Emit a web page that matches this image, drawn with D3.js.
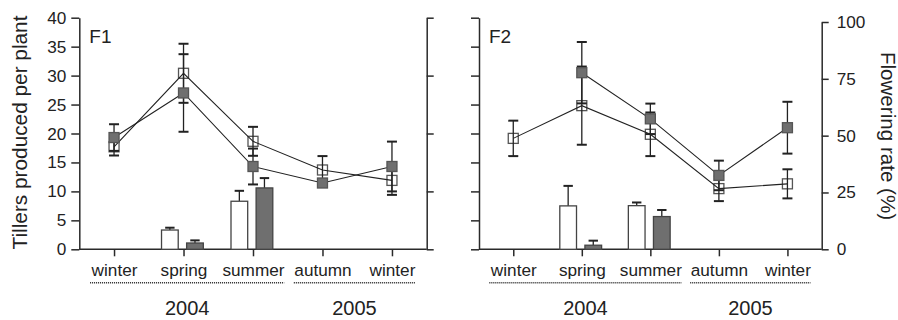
<!DOCTYPE html>
<html><head><meta charset="utf-8">
<script src="https://cdn.jsdelivr.net/npm/d3@7"></script>
<style>
body{margin:0;background:#fff}
text{font-family:"Liberation Sans",Arial,Helvetica,sans-serif;fill:#222}
</style>
</head><body>
<svg id="c" width="898" height="320"></svg>
<script>
// ---------- data ----------
const seasons = ["winter","spring","summer","autumn","winter"];
const seasonYear = ["2004","2004","2004","2005","2005"];
const years = ["2004","2005"];
const tillerTicks = [0,5,10,15,20,25,30,35,40];
const rateTicks = [0,25,50,75,100];

// F1 (read on tillers axis)
const f1Open        = [17.7, 30.4, 18.65, 13.7, 11.9];
const f1OpenErr     = [1.5, 5.1, 2.5, 2.4, 2.5];
const f1Filled      = [19.3, 27.0, 14.3, 11.45, 14.3];
const f1FilledErr   = [2.3, 6.7, 3.1, 0.5, 4.3];
const f1BarOpen     = [null, 3.33, 8.3, null, null];
const f1BarOpenErr  = [null, 0.4, 1.8, null, null];
const f1BarFilled   = [null, 1.09, 10.6, null, null];
const f1BarFilledErr= [null, 0.45, 1.7, null, null];

// F2 (read on flowering-rate axis)
const f2Open        = [48.8, 63.2, 50.6, 26.7, 28.8];
const f2OpenErr     = [7.8, 17.2, 9.6, 5.5, 6.4];
const f2Filled      = [null, 77.7, 57.4, 32.5, 53.5];
const f2FilledErr   = [null, 13.5, 6.7, 6.5, 11.4];
const f2BarOpen     = [null, 19.1, 19.2, null, null];
const f2BarOpenErr  = [null, 8.8, 1.4, null, null];
const f2BarFilled   = [null, 1.8, 14.4, null, null];
const f2BarFilledErr= [null, 2.0, 2.9, null, null];

// ---------- layout ----------
const svg = d3.select("#c");
const yBottom = 249.3;
const yT = d3.scaleLinear().domain([0,40]).range([yBottom,17.7]);
const yR1 = d3.scaleLinear().domain([0,100]).range([yBottom,17.7]);
const yR2 = d3.scaleLinear().domain([0,100]).range([yBottom,22]);

const GRAY = "#6f6f6f", AX = "#2a2a2a";

const panels = [
  {x0:79.3, x1:426.7, label:"F1", y:yT, yRight:yR1, leftLabels:true, rightLabels:false,
   open:f1Open, openErr:f1OpenErr, filled:f1Filled, filledErr:f1FilledErr,
   barOpen:f1BarOpen, barOpenErr:f1BarOpenErr, barFilled:f1BarFilled, barFilledErr:f1BarFilledErr},
  {x0:479, x1:821.7, label:"F2", y:yR2, yRight:yR2, leftLabels:false, rightLabels:true,
   open:f2Open, openErr:f2OpenErr, filled:f2Filled, filledErr:f2FilledErr,
   barOpen:f2BarOpen, barOpenErr:f2BarOpenErr, barFilled:f2BarFilled, barFilledErr:f2BarFilledErr}
];

panels.forEach(p => {
  const g = svg.append("g");
  const x = d3.scalePoint().domain(d3.range(seasons.length)).range([p.x0, p.x1]).padding(0.5);
  const xb = d3.scaleBand().domain(["open","filled"]).range([-22, 19.8]).paddingInner(0.335);
  const y = p.y;

  // axes
  const left = g.append("g").attr("transform",`translate(${p.x0},0)`)
    .call(d3.axisLeft(yT).tickValues(tillerTicks).tickSize(8).tickPadding(5).tickSizeOuter(0)
      .tickFormat(p.leftLabels ? d3.format("d") : ""));
  const right = g.append("g").attr("transform",`translate(${p.x1},0)`)
    .call(d3.axisRight(p.yRight).tickValues(rateTicks).tickSize(7).tickPadding(8).tickSizeOuter(0)
      .tickFormat(p.rightLabels ? d3.format("d") : ""));
  const bottom = g.append("g").attr("transform",`translate(0,${yBottom})`)
    .call(d3.axisBottom(x).tickSize(7).tickPadding(7.5).tickSizeOuter(0).tickFormat(i => seasons[i]));
  [left,right,bottom].forEach(a => {
    a.selectAll("path,line").attr("stroke",AX).attr("stroke-width",1.5);
    a.selectAll("text").attr("font-size", 17.2).attr("fill","#222")
      .attr("font-family","'Liberation Sans',Arial,sans-serif");
  });
  bottom.select(".domain").attr("d",`M${p.x0},0H${p.x1}`);

  // year groups: dotted underline + year label
  years.forEach(yr => {
    const idx = d3.range(seasons.length).filter(i => seasonYear[i] === yr);
    const texts = bottom.selectAll(".tick text").filter((d) => idx.includes(d)).nodes();
    const boxes = texts.map(t => t.getBBox()).map((b,k) => {
      const tx = x(idx[k]); return {l: tx + b.x, r: tx + b.x + b.width};
    });
    const l = d3.min(boxes, b => b.l), r = d3.max(boxes, b => b.r);
    g.append("line").attr("x1",l).attr("x2",r).attr("y1",282.7).attr("y2",282.7)
      .attr("stroke","#222").attr("stroke-width",1.5).attr("stroke-dasharray","1,1");
    g.append("text").attr("x",(l+r)/2).attr("y",315).attr("text-anchor","middle")
      .attr("font-size",20).text(yr);
  });

  // panel label
  g.append("text").attr("x",p.x0+10).attr("y",42.7).attr("font-size",19).text(p.label);

  // bars
  const barSets = [
    {key:"open", v:p.barOpen, e:p.barOpenErr, fill:"#fff"},
    {key:"filled", v:p.barFilled, e:p.barFilledErr, fill:GRAY}
  ];
  barSets.forEach(s => {
    const data = s.v.map((v,i) => ({i, v, e:s.e[i]})).filter(d => d.v != null);
    const bw = xb.bandwidth();
    const gb = g.append("g");
    gb.selectAll("line.stem").data(data).join("line")
      .attr("x1",d => x(d.i)+xb(s.key)+bw/2).attr("x2",d => x(d.i)+xb(s.key)+bw/2)
      .attr("y1",d => y(d.v)).attr("y2",d => y(d.v+d.e))
      .attr("stroke","#222").attr("stroke-width",1.3);
    gb.selectAll("line.cap").data(data).join("line")
      .attr("x1",d => x(d.i)+xb(s.key)+bw/2-4.7).attr("x2",d => x(d.i)+xb(s.key)+bw/2+4.7)
      .attr("y1",d => y(d.v+d.e)).attr("y2",d => y(d.v+d.e))
      .attr("stroke","#222").attr("stroke-width",2);
    gb.selectAll("rect").data(data).join("rect")
      .attr("x",d => x(d.i)+xb(s.key)).attr("width",bw)
      .attr("y",d => y(d.v)).attr("height",d => yBottom - y(d.v))
      .attr("fill",s.fill).attr("stroke","#444").attr("stroke-width",1.3);
  });

  // line series
  const series = [
    {v:p.open, e:p.openErr, fill:"#fff"},
    {v:p.filled, e:p.filledErr, fill:GRAY}
  ];
  const line = d3.line().defined(d => d.v != null).x(d => x(d.i)).y(d => y(d.v));
  const sq = 10;
  const drawMarkers = (s) => {
    const data = s.v.map((v,i) => ({i,v})).filter(d => d.v != null);
    g.append("g").selectAll("rect").data(data).join("rect")
      .attr("x",d => x(d.i)-sq/2).attr("y",d => y(d.v)-sq/2)
      .attr("width",sq).attr("height",sq)
      .attr("fill",s.fill).attr("stroke","#555").attr("stroke-width",1.3);
  };
  drawMarkers(series[0]);
  series.forEach(s => {
    const data = s.v.map((v,i) => ({i, v, e:s.e[i]})).filter(d => d.v != null);
    const ge = g.append("g");
    ge.selectAll("line.stem").data(data).join("line")
      .attr("x1",d => x(d.i)).attr("x2",d => x(d.i))
      .attr("y1",d => y(d.v+d.e)).attr("y2",d => y(d.v-d.e))
      .attr("stroke","#222").attr("stroke-width",1.3);
    [1,-1].forEach(sgn => {
      ge.selectAll("line.cap"+sgn).data(data).join("line")
        .attr("x1",d => x(d.i)-5).attr("x2",d => x(d.i)+5)
        .attr("y1",d => y(d.v+sgn*d.e)).attr("y2",d => y(d.v+sgn*d.e))
        .attr("stroke","#222").attr("stroke-width",2);
    });
    g.append("path").datum(s.v.map((v,i) => ({i,v})))
      .attr("d",line).attr("fill","none").attr("stroke","#222").attr("stroke-width",1.1);
  });
  drawMarkers(series[1]);
});

// axis titles
svg.append("text").attr("transform","translate(26.7,132.5) rotate(-90)")
  .attr("text-anchor","middle").attr("font-size",20.8).text("Tillers produced per plant");
svg.append("text").attr("transform","translate(880.5,136) rotate(90)")
  .attr("text-anchor","middle").attr("font-size",20.6).text("Flowering rate (%)");
</script>
</body></html>
